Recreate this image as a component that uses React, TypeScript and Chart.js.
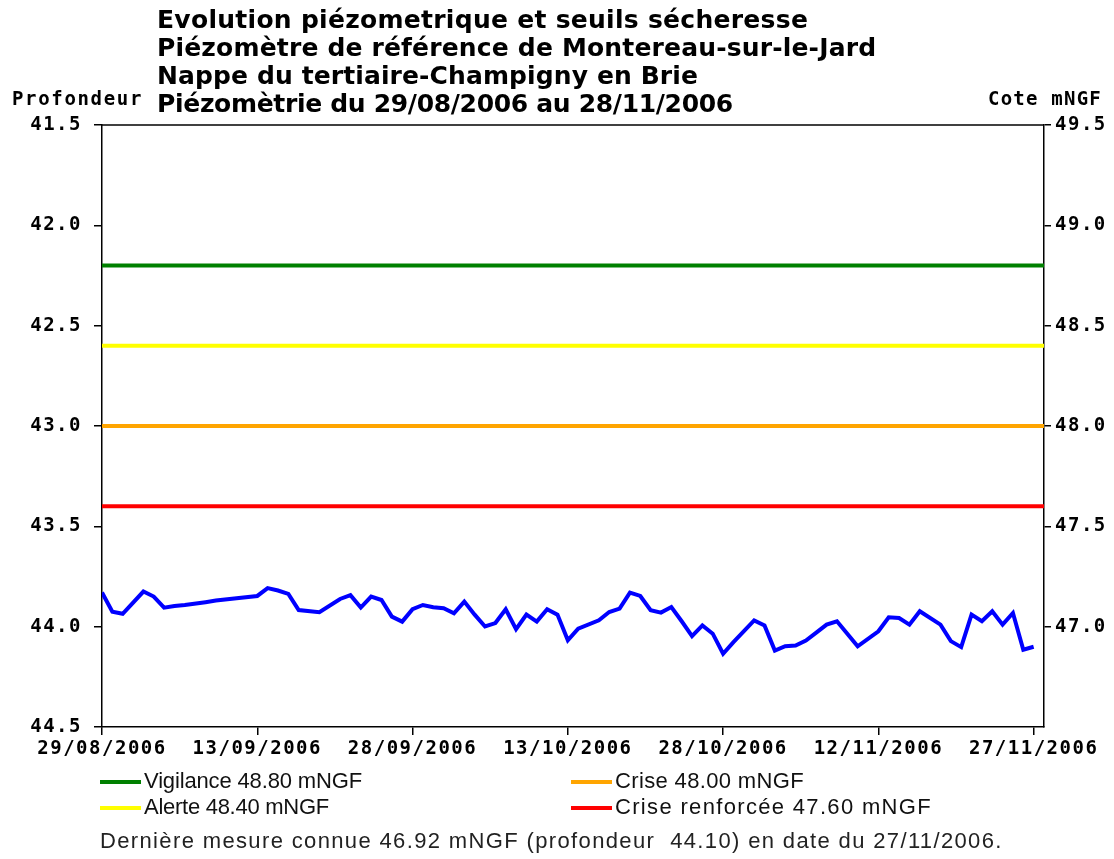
import React, { useEffect, useRef } from "react";
import { Chart, registerables } from "chart.js";

Chart.register(...registerables);

// ---------- data ----------
const startDate = { year: 2006, month: 7, day: 29 }; // 29/08/2006 (month is 0-based)
const datum = 91.0; // cote mNGF = datum - profondeur

const measureDays = [
  0, 1, 2, 4, 5, 6, 7, 8, 10, 11, 13, 15, 16, 17, 18, 19, 21, 23, 24, 25, 26, 27, 28, 29, 30,
  31, 32, 33, 34, 35, 36, 37, 38, 39, 40, 41, 42, 43, 44, 45, 46, 48, 49, 50, 51, 52, 53, 54,
  55, 56, 57, 58, 59, 60, 61, 63, 64, 65, 66, 67, 68, 69, 70, 71, 73, 75, 76, 77, 78, 79, 81,
  82, 83, 84, 85, 86, 87, 88, 89, 90,
];
const depthValues = [
  43.83, 43.925, 43.936, 43.825, 43.85, 43.905, 43.897, 43.892, 43.878, 43.87, 43.858, 43.847,
  43.808, 43.82, 43.837, 43.917, 43.928, 43.862, 43.843, 43.905, 43.85, 43.867, 43.95, 43.975,
  43.913, 43.892, 43.903, 43.908, 43.933, 43.875, 43.94, 43.999, 43.982, 43.913, 44.013, 43.94,
  43.975, 43.913, 43.94, 44.068, 44.01, 43.968, 43.927, 43.91, 43.83, 43.847, 43.918, 43.93,
  43.902, 43.973, 44.047, 43.994, 44.035, 44.135, 44.077, 43.969, 43.994, 44.119, 44.097, 44.094,
  44.069, 44.03, 43.99, 43.973, 44.098, 44.023, 43.953, 43.957, 43.99, 43.923, 43.99, 44.072,
  44.102, 43.94, 43.973, 43.923, 43.99, 43.932, 44.115, 44.1,
];

const thresholdNames = ["Vigilance", "Alerte", "Crise", "Crise renforcée"];
const thresholdCotes = [48.8, 48.4, 48.0, 47.6];
const thresholdColors = ["#008000", "#ffff00", "#ffa500", "#ff0000"];

const xTickDays = [0, 15, 30, 45, 60, 75, 90];
const xMaxDay = 91;
const depthTicks = [41.5, 42.0, 42.5, 43.0, 43.5, 44.0, 44.5];
const coteTicks = [47.0, 47.5, 48.0, 48.5, 49.0, 49.5];

const titleLines = [
  "Evolution piézometrique et seuils sécheresse",
  "Piézomètre de référence de Montereau-sur-le-Jard",
  "Nappe du tertiaire-Champigny en Brie",
  "Piézomètrie du 29/08/2006 au 28/11/2006",
];
const leftAxisTitle = "Profondeur";
const rightAxisTitle = "Cote mNGF";
const lastCote = 46.92;
const lastDepth = 44.1;
const lastDate = "27/11/2006";

// ---------- helpers ----------
const pad2 = (n: number) => (n < 10 ? "0" + n : "" + n);
const dayLabel = (d: number) => {
  const dt = new Date(startDate.year, startDate.month, startDate.day + d);
  return pad2(dt.getDate()) + "/" + pad2(dt.getMonth() + 1) + "/" + dt.getFullYear();
};

const MONO = '"DejaVu Sans Mono", monospace';
const TICK_SPACING = "1.5px";

function fitText(
  ctx: CanvasRenderingContext2D,
  text: string,
  x: number,
  y: number,
  font: string,
  width: number,
  color: string
) {
  ctx.save();
  ctx.font = font;
  (ctx as any).letterSpacing = "0px";
  const w = ctx.measureText(text).width;
  const sp = (width - w) / Math.max(1, text.length);
  (ctx as any).letterSpacing = sp.toFixed(2) + "px";
  ctx.fillStyle = color;
  ctx.textAlign = "left";
  ctx.textBaseline = "middle";
  ctx.fillText(text, x, y);
  ctx.restore();
}

const spacingPlugin = {
  id: "spacing",
  beforeUpdate(chart: any) {
    chart.ctx.letterSpacing = TICK_SPACING;
  },
  beforeDraw(chart: any) {
    chart.ctx.letterSpacing = TICK_SPACING;
  },
};

const decorPlugin = {
  id: "decor",
  afterDraw(chart: any) {
    const ctx: CanvasRenderingContext2D = chart.ctx;
    const a = chart.chartArea;
    ctx.save();
    ctx.strokeStyle = "#000";
    ctx.lineWidth = 1.5;
    ctx.beginPath();
    ctx.moveTo(a.left, a.top);
    ctx.lineTo(a.right, a.top);
    ctx.stroke();
    ctx.restore();

    // title
    const titleFont = 'bold 25px "DejaVu Sans", sans-serif';
    const titleWidths = [651, 719, 541, 576];
    titleLines.forEach((t, i) => fitText(ctx, t, 157, 21 + i * 28, titleFont, titleWidths[i], "#000"));

    // axis titles
    const axFont = "bold 19px " + MONO;
    fitText(ctx, leftAxisTitle, 12, 100, axFont, 131, "#000");
    fitText(ctx, rightAxisTitle, 988, 100, axFont, 114, "#000");

    // legend
    const legFont = '22px "Liberation Sans", Arial, sans-serif';
    const legPos = [
      { x: 100, y: 782, w: 218 },
      { x: 100, y: 808, w: 185 },
      { x: 571, y: 782, w: 189 },
      { x: 571, y: 808, w: 317 },
    ];
    thresholdNames.forEach((n, i) => {
      const p = legPos[i];
      ctx.save();
      ctx.strokeStyle = thresholdColors[i];
      ctx.lineWidth = 4;
      ctx.beginPath();
      ctx.moveTo(p.x, p.y);
      ctx.lineTo(p.x + 41, p.y);
      ctx.stroke();
      ctx.restore();
      fitText(ctx, n + " " + thresholdCotes[i].toFixed(2) + " mNGF", p.x + 44, p.y, legFont, p.w, "#111");
    });

    // footer
    const footer =
      "Dernière mesure connue " +
      lastCote.toFixed(2) +
      " mNGF (profondeur  " +
      lastDepth.toFixed(2) +
      ") en date du " +
      lastDate +
      ".";
    fitText(ctx, footer, 100, 842, legFont, 903, "#222");
  },
};

export default function App() {
  const ref = useRef<HTMLCanvasElement | null>(null);

  useEffect(() => {
    if (!ref.current) return;
    const mainData = measureDays.map((d, i) => ({ x: d, y: depthValues[i] }));
    const thresholdSets = thresholdCotes.map((c, i) => ({
      label: thresholdNames[i],
      data: [
        { x: 0, y: datum - c },
        { x: xMaxDay, y: datum - c },
      ],
      borderColor: thresholdColors[i],
      backgroundColor: thresholdColors[i],
      borderWidth: 4,
      pointRadius: 0,
      yAxisID: "y",
    }));
    const tickFont = { family: MONO, size: 19, weight: "bold" as const };
    const chart = new Chart(ref.current, {
      type: "line",
      data: {
        datasets: [
          {
            label: "Profondeur",
            data: mainData,
            borderColor: "#0000ff",
            backgroundColor: "#0000ff",
            borderWidth: 4,
            pointRadius: 0,
            tension: 0,
            yAxisID: "y",
          },
          ...thresholdSets,
        ],
      },
      options: {
        animation: false,
        responsive: false,
        maintainAspectRatio: false,
        layout: { padding: { top: 125, left: 0, right: 0, bottom: 92 } },
        plugins: {
          legend: { display: false },
          tooltip: { enabled: false },
          title: { display: false },
        },
        scales: {
          x: {
            type: "linear",
            min: 0,
            max: xMaxDay,
            afterBuildTicks: (s: any) => {
              s.ticks = xTickDays.map((v) => ({ value: v }));
            },
            afterFit: (s: any) => {
              s.height = 40;
            },
            ticks: {
              autoSkip: false,
              maxRotation: 0,
              color: "#000",
              font: tickFont,
              padding: 3,
              callback: (v: any) => dayLabel(Number(v)),
            },
            grid: { drawOnChartArea: false, drawTicks: true, tickLength: 8, color: "#000", lineWidth: 1.5 },
            border: { display: true, color: "#000", width: 1.5 },
          },
          y: {
            type: "linear",
            position: "left",
            reverse: true,
            min: depthTicks[0],
            max: depthTicks[depthTicks.length - 1],
            afterBuildTicks: (s: any) => {
              s.ticks = depthTicks.map((v) => ({ value: v }));
            },
            afterFit: (s: any) => {
              s.width = 102;
            },
            ticks: {
              color: "#000",
              font: tickFont,
              padding: 12,
              callback: (v: any) => Number(v).toFixed(1),
            },
            grid: { drawOnChartArea: false, drawTicks: true, tickLength: 8, color: "#000", lineWidth: 1.5 },
            border: { display: true, color: "#000", width: 1.5 },
          },
          y1: {
            type: "linear",
            position: "right",
            min: datum - depthTicks[depthTicks.length - 1],
            max: datum - depthTicks[0],
            afterBuildTicks: (s: any) => {
              s.ticks = coteTicks.map((v) => ({ value: v }));
            },
            afterFit: (s: any) => {
              s.width = 70;
            },
            ticks: {
              color: "#000",
              font: tickFont,
              padding: 4,
              callback: (v: any) => Number(v).toFixed(1),
            },
            grid: { drawOnChartArea: false, drawTicks: true, tickLength: 7, color: "#000", lineWidth: 1.5 },
            border: { display: true, color: "#000", width: 1.5 },
          },
        },
      },
      plugins: [spacingPlugin, decorPlugin],
    });
    return () => chart.destroy();
  }, []);

  return (
    <div style={{ position: "absolute", left: 0, top: 0, width: 1114, height: 859, background: "#fff" }}>
      <canvas ref={ref} width={1114} height={859} style={{ display: "block", width: 1114, height: 859 }} />
    </div>
  );
}
